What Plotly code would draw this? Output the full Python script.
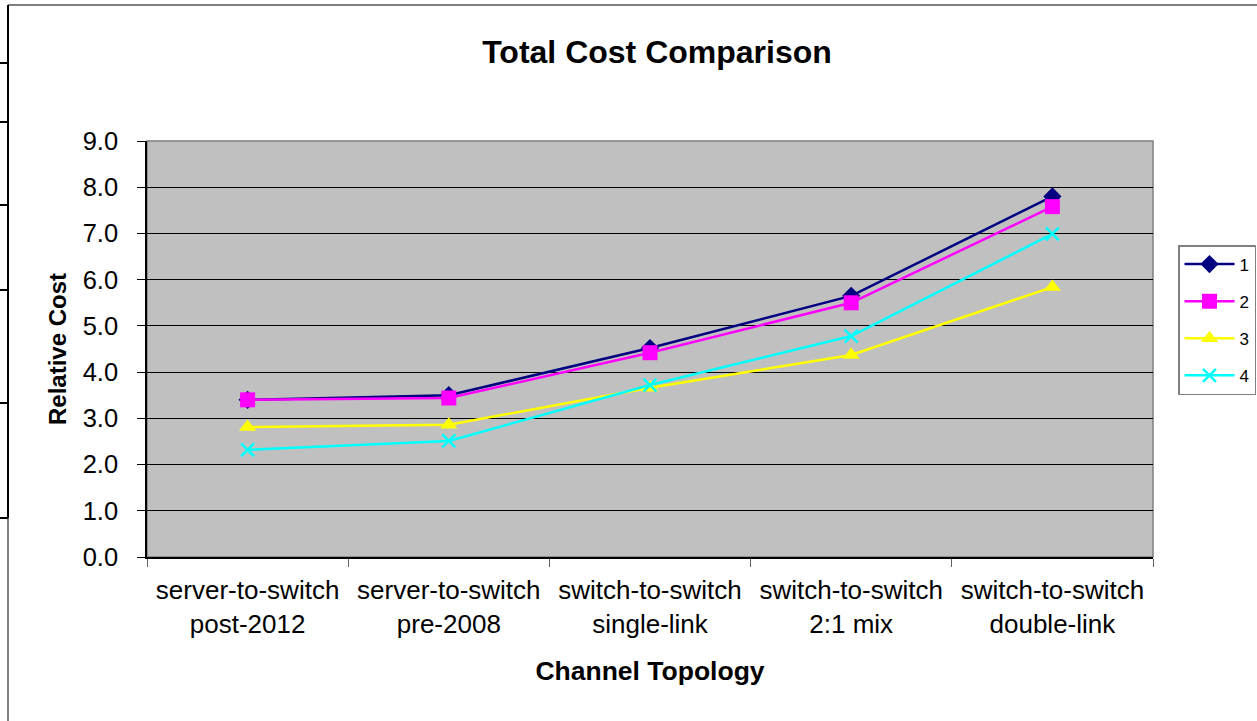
import plotly.graph_objects as go

categories = [
    "server-to-switch<br>post-2012",
    "server-to-switch<br>pre-2008",
    "switch-to-switch<br>single-link",
    "switch-to-switch<br>2:1 mix",
    "switch-to-switch<br>double-link",
]
series_names = ["1", "2", "3", "4"]
cost_1 = [3.40, 3.50, 4.52, 5.65, 7.80]
cost_2 = [3.40, 3.44, 4.42, 5.50, 7.58]
cost_3 = [2.81, 2.86, 3.66, 4.37, 5.84]
cost_4 = [2.32, 2.51, 3.72, 4.78, 6.99]

colors = ["#000080", "#FF00FF", "#FFFF00", "#00FFFF"]
symbols = ["diamond", "square", "triangle-up", "x-thin"]
sizes = [14, 15, 15, 13]

W, H = 1257, 721
L, R, T, B = 147, 1153, 141, 557  # plot area in pixels


def px_x(p):
    return (p - L) / (R - L)


def px_y(p):
    return (B - p) / (B - T)


fig = go.Figure()
for name, vals, c, s, sz in zip(series_names, [cost_1, cost_2, cost_3, cost_4], colors, symbols, sizes):
    fig.add_trace(go.Scatter(
        x=categories, y=vals, name=name, mode="lines+markers", legendgroup=name,
        line=dict(color=c, width=2.5),
        marker=dict(symbol=s, size=sz, color=c, line=dict(color=c, width=2.5 if s == "x-thin" else 0)),
    ))

# spreadsheet-like frame on the left/top edge
shapes = [
    dict(type="line", xref="paper", yref="paper", x0=px_x(8), x1=px_x(1257), y0=px_y(5), y1=px_y(5),
         line=dict(color="#000000", width=1)),
    dict(type="line", xref="paper", yref="paper", x0=px_x(8), x1=px_x(8), y0=px_y(5), y1=px_y(518),
         line=dict(color="#000000", width=2)),
    dict(type="line", xref="paper", yref="paper", x0=px_x(8), x1=px_x(8), y0=px_y(518), y1=px_y(721),
         line=dict(color="#808080", width=2)),
    # plot-area border
    dict(type="rect", xref="paper", yref="paper", x0=0, x1=1, y0=0, y1=1,
         line=dict(color="#808080", width=1.5), layer="below"),
]
for ty in [63, 122, 205, 290, 403, 518]:
    shapes.append(dict(type="line", xref="paper", yref="paper", x0=px_x(0), x1=px_x(8),
                       y0=px_y(ty), y1=px_y(ty), line=dict(color="#000000", width=2)))

fig.update_layout(
    width=W, height=H,
    margin=dict(l=L, r=W - R, t=T, b=H - B, autoexpand=False),
    paper_bgcolor="#FFFFFF",
    plot_bgcolor="#C0C0C0",
    font=dict(family="Liberation Sans, Arial, sans-serif", color="#000000"),
    title=dict(text="<b>Total Cost Comparison</b>", x=px_x(657), xref="paper", xanchor="center",
               y=1 - 52 / H, yanchor="middle", font=dict(size=32)),
    xaxis=dict(
        type="category", range=[-0.5, len(categories) - 0.5],
        tickson="boundaries", ticks="outside", ticklen=8, tickcolor="#606060",
        showline=True, linecolor="#000000", linewidth=1.5, showgrid=False,
        tickfont=dict(size=26), ticklabelstandoff=9,
        title=dict(text="<b>Channel Topology</b>", font=dict(size=26.5), standoff=24),
    ),
    yaxis=dict(
        range=[0, 9], dtick=1, tickformat=".1f", ticks="outside", ticklen=8, tickcolor="#000000",
        showline=True, linecolor="#000000", linewidth=1.5,
        showgrid=True, gridcolor="#000000", gridwidth=1, zeroline=False,
        tickfont=dict(size=25.5), ticklabelstandoff=14,
        title=dict(text="<b>Relative Cost</b>", font=dict(size=24), standoff=9),
    ),
    legend=dict(
        x=px_x(1178), y=px_y(245), xanchor="left", yanchor="top",
        bordercolor="#808080", borderwidth=1.5, bgcolor="#FFFFFF",
        font=dict(size=17), itemwidth=50, tracegroupgap=12,
    ),
    shapes=shapes,
    showlegend=True,
)

fig.write_html("out.html", config={"displayModeBar": False},
               post_script="document.body.style.margin='0';")
